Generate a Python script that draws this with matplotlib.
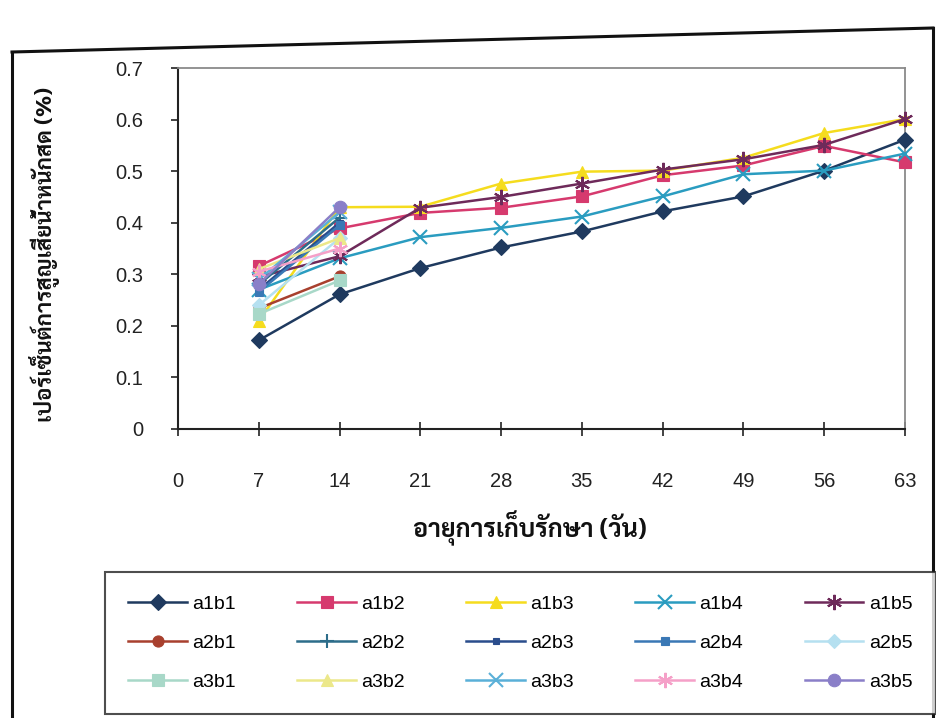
import matplotlib
matplotlib.use('Agg')
import matplotlib.pyplot as plt
from matplotlib import font_manager
from matplotlib.lines import Line2D

# days of storage
days = [7, 14, 21, 28, 35, 42, 49, 56, 63]
days_short = [7, 14]

# weight loss (%)
a1b1 = [0.172, 0.261, 0.312, 0.352, 0.383, 0.422, 0.451, 0.501, 0.561]
a1b2 = [0.316, 0.389, 0.419, 0.429, 0.451, 0.492, 0.511, 0.549, 0.517]
a1b3 = [0.210, 0.430, 0.431, 0.476, 0.499, 0.501, 0.526, 0.574, 0.601]
a1b4 = [0.270, 0.331, 0.372, 0.390, 0.412, 0.451, 0.494, 0.501, 0.534]
a1b5 = [0.295, 0.335, 0.429, 0.450, 0.476, 0.503, 0.523, 0.551, 0.601]
a2b1 = [0.234, 0.296]
a2b2 = [0.280, 0.410]
a2b3 = [0.270, 0.400]
a2b4 = [0.266, 0.395]
a2b5 = [0.240, 0.370]
a3b1 = [0.223, 0.288]
a3b2 = [0.310, 0.370]
a3b3 = [0.290, 0.420]
a3b4 = [0.305, 0.350]
a3b5 = [0.281, 0.430]

names = ['a1b1', 'a1b2', 'a1b3', 'a1b4', 'a1b5',
         'a2b1', 'a2b2', 'a2b3', 'a2b4', 'a2b5',
         'a3b1', 'a3b2', 'a3b3', 'a3b4', 'a3b5']
values = [a1b1, a1b2, a1b3, a1b4, a1b5,
          a2b1, a2b2, a2b3, a2b4, a2b5,
          a3b1, a3b2, a3b3, a3b4, a3b5]
colors = ['#1f3a5f', '#d63a6e', '#f5dc1e', '#2a9cc0', '#6e2a5a',
          '#a8402e', '#2d6d8a', '#2a4d8c', '#3a78b5', '#b5e0f0',
          '#a8d8c8', '#ece88a', '#5ab0d8', '#f5a0c8', '#8a7fc8']
markers = ['D', 's', '^', 'x', (6, 2, 0),
           'o', '+', 's', 's', 'D',
           's', '^', 'x', (6, 2, 0), 'o']
msizes = [8, 8, 9, 10, 11,
          8, 10, 4, 6, 7,
          8, 9, 10, 11, 9]

xlabel = 'อายุการเก็บรักษา (วัน)'
ylabel = 'เปอร์เซ็นต์การสูญเสียน้ำหนักสด (%)'

# pick an installed Thai font that has a bold face
bold_fonts = {f.name for f in font_manager.fontManager.ttflist
              if (f.weight if isinstance(f.weight, int) else 400) >= 600
              or f.weight == 'bold'}
thai = 'DejaVu Sans'
for cand in ['Sarabun', 'Noto Sans Thai Looped', 'IBM Plex Sans Thai Looped',
             'Noto Sans Thai', 'IBM Plex Sans Thai', 'Bai Jamjuree']:
    if cand in bold_fonts:
        thai = cand
        break

plt.rcParams['font.family'] = ['Liberation Sans', 'DejaVu Sans']

W, H = 936, 718
fig = plt.figure(figsize=(W / 100, H / 100), dpi=100)
fig.patch.set_facecolor('white')


def fx(px):
    return px / W


def fy(py):
    return 1 - py / H


ax_l, ax_r, ax_t, ax_b = 178, 905, 68, 429
ax = fig.add_axes([fx(ax_l), fy(ax_b), fx(ax_r) - fx(ax_l), fy(ax_t) - fy(ax_b)])

lines = {}
for i, (name, vals) in enumerate(zip(names, values)):
    xs = days if len(vals) == len(days) else days_short
    thin = markers[i] in ('x', '+') or isinstance(markers[i], tuple)
    ln, = ax.plot(xs, vals, color=colors[i], marker=markers[i], markersize=msizes[i],
                  markeredgewidth=1.5 if thin else 0.8,
                  markeredgecolor=colors[i], lw=1.8, label=name, zorder=3 + i,
                  clip_on=False)
    lines[name] = ln

ax.set_xlim(0, 63)
ax.set_ylim(0, 0.7)
ax.set_xticks([0] + days)
ax.set_xticklabels([str(d) for d in [0] + days])
ax.set_yticks([0, 0.1, 0.2, 0.3, 0.4, 0.5, 0.6, 0.7])
ax.set_yticklabels(['0', '0.1', '0.2', '0.3', '0.4', '0.5', '0.6', '0.7'])
ax.tick_params(axis='y', direction='out', length=5, width=1.2, pad=20,
               labelsize=14.5, colors='#222222')
ax.tick_params(axis='x', direction='inout', length=10, width=1.2, pad=26,
               labelsize=14.5, colors='#222222')

for side in ('left', 'bottom'):
    ax.spines[side].set_color('#222222')
    ax.spines[side].set_linewidth(1.5)
for side in ('top', 'right'):
    ax.spines[side].set_color('#8a8a8a')
    ax.spines[side].set_linewidth(1.3)

ax.set_xlabel(xlabel, family=[thai, 'DejaVu Sans'], fontsize=18, fontweight='bold',
              color='#111111')
ax.xaxis.set_label_coords((530 - ax_l) / (ax_r - ax_l), -(510 - ax_b) / (ax_b - ax_t))
ax.set_ylabel(ylabel, family=[thai, 'DejaVu Sans'], fontsize=16, fontweight='bold',
              color='#111111')
ax.yaxis.set_label_coords(-(ax_l - 60) / (ax_r - ax_l), (ax_b - 254) / (ax_b - ax_t))

# legend reads row by row, as in the original
order = [names[r * 5 + c] for c in range(5) for r in range(3)]
leg = fig.legend([lines[n] for n in order], order, loc='upper left',
                 bbox_to_anchor=(fx(105), fy(572)), ncol=5,
                 fontsize=14, frameon=True, fancybox=False, edgecolor='#222222',
                 handlelength=3.0, handletextpad=0.3, columnspacing=3.15,
                 labelspacing=1.1, borderpad=1.2, borderaxespad=0)
leg.get_frame().set_linewidth(1.5)

# page frame around the chart
frame = dict(color='#111111', lw=2.2, transform=fig.transFigure)
fig.add_artist(Line2D([fx(12), fx(933)], [fy(52), fy(28)], **frame))
fig.add_artist(Line2D([fx(12), fx(12)], [fy(52), fy(718)], **frame))
fig.add_artist(Line2D([fx(933), fx(933)], [fy(28), fy(718)], **frame))

fig.savefig('out.png', dpi=100, facecolor='white')
